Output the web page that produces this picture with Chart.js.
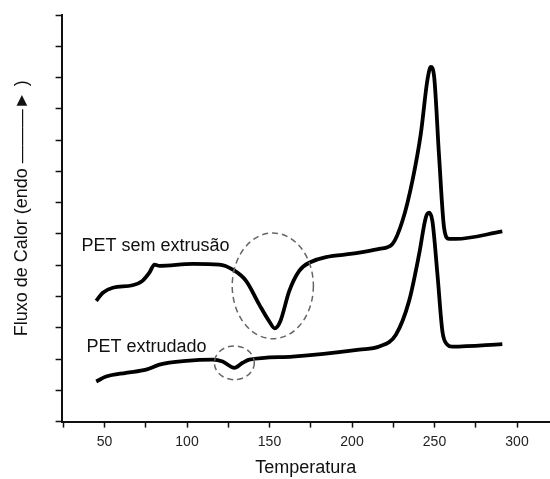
<!DOCTYPE html>
<html>
<head>
<meta charset="utf-8">
<script src="https://cdn.jsdelivr.net/npm/chart.js@4"></script>
<style>
  html, body { margin: 0; padding: 0; background: #fff; }
  #wrap { width: 550px; height: 479px; position: relative; }
</style>
</head>
<body>
<div id="wrap"><canvas id="myChart"></canvas></div>
<script>
// curva superior: PET sem extrusão
var tempSemExtrusao = [45, 49, 55, 67, 73, 77.2, 80.3, 83.3, 103.5, 119.6, 127.7, 135.8, 143.8, 149.9, 153.2, 156.5, 162, 168, 174, 204.4, 216.5, 224.5, 230.6, 236.6, 241.7, 245.7, 247.8, 249.8, 252.8, 255.8, 258.8, 262.9, 291.1];
var fluxoSemExtrusao = [1.93, 2.06, 2.14, 2.18, 2.25, 2.38, 2.51, 2.49, 2.52, 2.51, 2.43, 2.25, 1.87, 1.6, 1.49, 1.6, 2.09, 2.41, 2.54, 2.70, 2.76, 2.84, 3.21, 3.85, 4.6, 5.46, 5.67, 5.51, 4.23, 3.1, 2.92, 2.92, 3.04];

// curva inferior: PET extrudado
var tempExtrudado = [45, 51, 63, 75.2, 83.3, 99.5, 115.6, 121.6, 128.7, 133.7, 137.8, 164, 204.4, 216.5, 226.6, 234.6, 240.7, 244.7, 246.7, 248.7, 251.8, 254.8, 257.8, 260.8, 291.1];
var fluxoExtrudado = [0.64, 0.72, 0.78, 0.83, 0.91, 0.97, 0.99, 0.96, 0.86, 0.94, 0.99, 1.04, 1.15, 1.2, 1.39, 1.93, 2.68, 3.26, 3.34, 3.21, 2.35, 1.44, 1.23, 1.2, 1.24];

var xTicks = [25, 50, 75, 100, 125, 150, 175, 200, 225, 250, 275, 300];

// rótulos e elipses tracejadas (em unidades dos dados)
var curveLabels = [
    { text: 'PET sem extrusão', x: 36.1, y: 2.81 },
    { text: 'PET extrudado', x: 39.1, y: 1.2 }
];
var ellipses = [
    { x: 152, y: 2.17, rx: 24.6, ry: 0.845 },
    { x: 128.7, y: 0.94, rx: 12.1, ry: 0.27 }
];

var fontFamily = '"Liberation Sans", Arial, Helvetica, sans-serif';

function toPoints(xs, ys) {
    return xs.map(function(x, i) { return { x: x, y: ys[i] }; });
}

var annotationPlugin = {
    id: 'annotations',
    afterDatasetsDraw: function(chart) {
        var ctx = chart.ctx;
        var xs = chart.scales.x;
        var ys = chart.scales.y;
        ctx.save();
        ctx.strokeStyle = '#666';
        ctx.lineWidth = 1.5;
        ctx.setLineDash([6, 4]);
        ellipses.forEach(function(e) {
            var cx = xs.getPixelForValue(e.x);
            var cy = ys.getPixelForValue(e.y);
            var rx = Math.abs(xs.getPixelForValue(e.x + e.rx) - cx);
            var ry = Math.abs(ys.getPixelForValue(e.y + e.ry) - cy);
            ctx.beginPath();
            ctx.ellipse(cx, cy, rx, ry, 0, 0, Math.PI * 2);
            ctx.stroke();
        });
        ctx.setLineDash([]);
        ctx.fillStyle = '#111';
        ctx.font = '18px ' + fontFamily;
        ctx.textBaseline = 'middle';
        ctx.textAlign = 'left';
        curveLabels.forEach(function(l) {
            ctx.fillText(l.text, xs.getPixelForValue(l.x), ys.getPixelForValue(l.y));
        });
        ctx.restore();
    }
};

var ctx = document.getElementById('myChart').getContext('2d');
var myChart = new Chart(ctx, {
    type: 'line',
    data: {
        datasets: [{
            label: 'PET sem extrusão',
            data: toPoints(tempSemExtrusao, fluxoSemExtrusao),
            borderColor: '#000',
            borderWidth: 3.8,
            pointRadius: 0,
            cubicInterpolationMode: 'monotone',
            fill: false
        }, {
            label: 'PET extrudado',
            data: toPoints(tempExtrudado, fluxoExtrudado),
            borderColor: '#000',
            borderWidth: 3.8,
            pointRadius: 0,
            cubicInterpolationMode: 'monotone',
            fill: false
        }]
    },
    options: {
        responsive: true,
        maintainAspectRatio: false,
        animation: false,
        layout: { padding: { left: 4, top: 15, right: 0, bottom: 0 } },
        plugins: {
            legend: { display: false },
            tooltip: { enabled: false }
        },
        scales: {
            x: {
                type: 'linear',
                min: 24,
                max: 320,
                afterBuildTicks: function(scale) {
                    scale.ticks = xTicks.map(function(v) { return { value: v }; });
                },
                border: { color: '#111', width: 2 },
                grid: {
                    drawOnChartArea: false,
                    drawTicks: true,
                    tickLength: 6,
                    tickWidth: 1.5,
                    tickColor: '#111'
                },
                ticks: {
                    color: '#222',
                    padding: 6,
                    maxRotation: 0,
                    autoSkip: false,
                    font: { family: fontFamily, size: 14 },
                    callback: function(v) { return v % 50 === 0 ? v : ''; }
                },
                title: {
                    display: true,
                    text: 'Temperatura',
                    color: '#111',
                    font: { family: fontFamily, size: 18 },
                    padding: { top: 1, bottom: 0 }
                }
            },
            y: {
                type: 'linear',
                min: 0,
                max: 6.5,
                border: { color: '#111', width: 2 },
                grid: {
                    drawOnChartArea: false,
                    drawTicks: true,
                    tickLength: 6,
                    tickWidth: 1.5,
                    tickColor: '#111'
                },
                ticks: {
                    stepSize: 0.5,
                    display: false
                },
                title: {
                    display: true,
                    // espaços iniciais sobem o texto como no original
                    text: '\u00a0\u00a0\u00a0\u00a0Fluxo de Calor (endo ———► )',
                    color: '#111',
                    font: { family: fontFamily, size: 18 },
                    padding: { top: 7, bottom: 23 }
                }
            }
        }
    },
    plugins: [annotationPlugin]
});
</script>
</body>
</html>
